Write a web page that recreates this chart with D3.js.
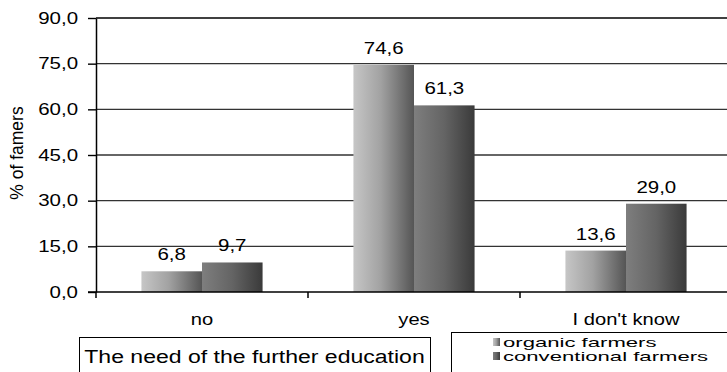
<!DOCTYPE html>
<html>
<head>
<meta charset="utf-8">
<script src="https://cdn.jsdelivr.net/npm/d3@7"></script>
<style>
  html, body { margin: 0; padding: 0; background: #fff; }
  svg { display: block; }
  text { font-family: "Liberation Sans", Arial, sans-serif; fill: #000; }
</style>
</head>
<body>
<script>
// ---- data ----
const categories = ["no", "yes", "I don't know"];
const series = ["organic farmers", "conventional farmers"];
const organic = [6.8, 74.6, 13.6];
const conventional = [9.7, 61.3, 29.0];
const yTicks = [0, 15, 30, 45, 60, 75, 90];
const yLabel = "% of famers";
const xTitle = "The need of the further education";

(function () {
const W = 727, H = 372;
const svg = d3.select("body").append("svg").attr("width", W).attr("height", H);

const defs = svg.append("defs");
function grad(id, stops) {
  const g = defs.append("linearGradient").attr("id", id)
    .attr("x1", "0%").attr("x2", "100%").attr("y1", "0%").attr("y2", "0%");
  stops.forEach(([o, c]) => g.append("stop").attr("offset", o).attr("stop-color", c));
}
grad("gOrg", [["0%", "#c6c6c6"], ["45%", "#a2a2a2"], ["100%", "#555555"]]);
grad("gCon", [["0%", "#7e7e7e"], ["50%", "#646464"], ["100%", "#3a3a3a"]]);
const fills = ["url(#gOrg)", "url(#gCon)"];

const pLeft = 96, pTop = 18, pBottom = 292, pRightEnd = 732;
const y = d3.scaleLinear().domain([0, 90]).range([pBottom, pTop]);
const x0 = d3.scaleBand().domain(categories).range([pLeft, pRightEnd]);
const x1 = d3.scaleBand().domain(series).range([0, x0.bandwidth()]).paddingOuter(0.75);

function stretch(sel, k) {
  sel.each(function () {
    const t = d3.select(this);
    const xv = +(t.attr("x") || 0);
    t.attr("x", xv / k).attr("transform", (t.attr("transform") || "") + ` scale(${k},1)`);
  });
}

// gridlines
svg.append("g").selectAll("line").data(yTicks.filter(d => d > 0)).join("line")
  .attr("x1", pLeft).attr("x2", W)
  .attr("y1", d => y(d)).attr("y2", d => y(d))
  .attr("stroke", d => d === 90 ? "#000" : "#333")
  .attr("stroke-width", d => d === 90 ? 1.6 : 1.4);

// bars
const vals = categories.map((c, i) => [organic[i], conventional[i]]);
const gCat = svg.append("g").selectAll("g").data(categories).join("g")
  .attr("transform", d => `translate(${x0(d)},0)`);
gCat.selectAll("rect").data((d, i) => series.map((s, j) => ({ s, j, v: vals[i][j] }))).join("rect")
  .attr("x", d => x1(d.s)).attr("width", x1.bandwidth())
  .attr("y", d => y(d.v)).attr("height", d => y(0) - y(d.v))
  .attr("fill", d => fills[d.j]);

// value labels
const fmt = v => v.toFixed(1).replace(".", ",");
gCat.selectAll("text").data((d, i) => series.map((s, j) => ({ s, j, v: vals[i][j] }))).join("text")
  .attr("text-anchor", "middle")
  .style("font-size", "16px")
  .attr("transform", d => `translate(${x1(d.s) + x1.bandwidth() / 2},${y(d.v) - 11}) scale(1.28,1)`)
  .text(d => fmt(d.v));

// y axis
const yAxis = svg.append("g").attr("transform", `translate(${pLeft},0)`)
  .call(d3.axisLeft(y).tickValues(yTicks).tickSize(8).tickPadding(10).tickSizeOuter(0).tickFormat(fmt));
yAxis.select(".domain").attr("stroke", "#000").attr("stroke-width", 1.5);
yAxis.selectAll(".tick line").attr("stroke", "#000").attr("stroke-width", 1.4);
yAxis.selectAll("text").style("font-size", "16px").attr("fill", "#000").style("font-family", "'Liberation Sans', Arial, sans-serif");
stretch(yAxis.selectAll("text"), 1.28);

// x axis
const xAxis = svg.append("g").attr("transform", `translate(0,${pBottom})`)
  .call(d3.axisBottom(x0).tickSize(0).tickPadding(0));
xAxis.select(".domain").remove();
xAxis.append("line").attr("x1", pLeft - 8).attr("x2", W).attr("y1", 0).attr("y2", 0)
  .attr("stroke", "#000").attr("stroke-width", 1.5);
xAxis.selectAll("line.bt").data(categories).join("line").attr("class", "bt")
  .attr("x1", d => x0(d)).attr("x2", d => x0(d)).attr("y1", 0).attr("y2", 6)
  .attr("stroke", "#000").attr("stroke-width", 1.5);
xAxis.selectAll(".tick text").attr("y", 33).attr("dy", 0).style("font-size", "16px")
  .attr("fill", "#000").style("font-family", "'Liberation Sans', Arial, sans-serif");
stretch(xAxis.selectAll(".tick text"), 1.26);

// y label
svg.append("text").attr("text-anchor", "middle")
  .attr("transform", "translate(23,153) rotate(-90)")
  .style("font-size", "17.5px").text(yLabel);

// title box
svg.append("rect").attr("x", 79.5).attr("y", 337.5).attr("width", 351).attr("height", 60)
  .attr("fill", "#fff").attr("stroke", "#000").attr("stroke-width", 1);
svg.append("text").attr("text-anchor", "middle")
  .attr("transform", "translate(254.5,363) scale(1.28,1)")
  .style("font-size", "18px").text(xTitle);

// legend
svg.append("rect").attr("x", 451.5).attr("y", 332.5).attr("width", 320).attr("height", 60)
  .attr("fill", "#fff").attr("stroke", "#000").attr("stroke-width", 1);
const leg = svg.append("g").selectAll("g").data(series).join("g")
  .attr("transform", (d, i) => `translate(493,${338 + i * 14})`);
leg.append("rect").attr("width", 7).attr("height", 8).attr("fill", (d, i) => fills[i]);
leg.append("text").attr("transform", "translate(10,8.5) scale(1.7,1)")
  .style("font-size", "13px").text(d => d);
})();
</script>
</body>
</html>
